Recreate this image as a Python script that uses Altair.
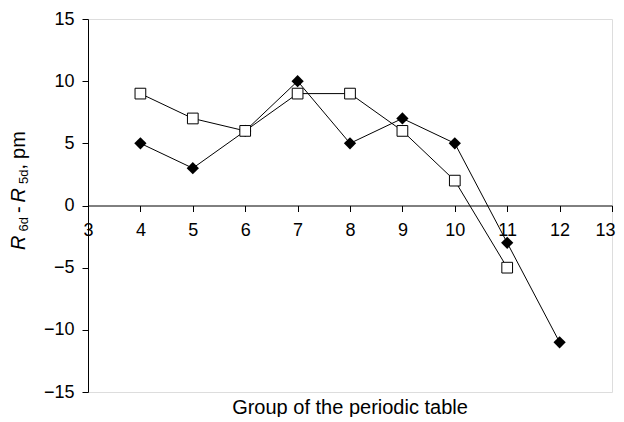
import altair as alt
import pandas as pd

# ---- data ----
groups_diamond = [4, 5, 6, 7, 8, 9, 10, 11, 12]
diff_diamond = [5, 3, 6, 10, 5, 7, 5, -3, -11]
groups_square = [4, 5, 6, 7, 8, 9, 10, 11]
diff_square = [9, 7, 6, 9, 9, 6, 2, -5]
x_ticks = [3, 4, 5, 6, 7, 8, 9, 10, 11, 12, 13]
y_ticks = [-15, -10, -5, 0, 5, 10, 15]
x_title = "Group of the periodic table"
# y title pieces: (text, is_subscript, italic, gap after)
y_title_parts = [("R", False, True, 4), ("6d", True, False, 4), ("-", False, False, 4),
                 ("R", False, True, 4), ("5d", True, False, 0), (",", False, False, 5),
                 ("pm", False, False, 0)]

W, H = 524, 373
FONT = "Liberation Sans"
TICK_FS = 18
TITLE_FS = 20
SUB_FS = 13
last_x = x_ticks[-1]

df_d = pd.DataFrame({"group": groups_diamond, "diff": diff_diamond})
df_s = pd.DataFrame({"group": groups_square, "diff": diff_square})

xscale = alt.Scale(domain=[3, 13], nice=False, zero=False)
yscale = alt.Scale(domain=[-15, 15], nice=False)

xaxis = alt.Axis(values=x_ticks, title=None, grid=False, offset=-H / 2,
                 tickSize=6, labelPadding=10, labelFontSize=TICK_FS, labelFont=FONT,
                 labelColor="black", domainColor="black", tickColor="black",
                 labelOverlap=False, labelFlush=False, format="d",
                 labelAlign={"condition": {"test": f"datum.value == {last_x}", "value": "right"},
                             "value": "center"},
                 labelOffset={"condition": {"test": f"datum.value == {last_x}", "value": 3},
                              "value": 0})
yaxis = alt.Axis(values=y_ticks, title=None, grid=False, tickSize=6, labelPadding=8,
                 labelFontSize=TICK_FS, labelFont=FONT, labelColor="black",
                 domainColor="black", tickColor="black", format="d")

enc_x = alt.X("group:Q", scale=xscale, axis=xaxis)
enc_y = alt.Y("diff:Q", scale=yscale, axis=yaxis)

line_d = alt.Chart(df_d).mark_line(color="black", strokeWidth=1).encode(x=enc_x, y=enc_y)
line_s = alt.Chart(df_s).mark_line(color="black", strokeWidth=1).encode(x="group:Q", y="diff:Q")
pts_d = alt.Chart(df_d).mark_point(shape="diamond", filled=True, color="black",
                                   size=150, opacity=1).encode(x="group:Q", y="diff:Q")
pts_s = alt.Chart(df_s).mark_point(shape="square", filled=True, fill="white",
                                   stroke="black", strokeWidth=1, size=115,
                                   opacity=1, fillOpacity=1).encode(x="group:Q", y="diff:Q")

one = pd.DataFrame({"k": [0]})

# bottom title
xt = alt.Chart(one).mark_text(text=x_title, font=FONT, fontSize=TITLE_FS, color="black",
                              align="center", baseline="alphabetic").encode(
    x=alt.value(W / 2), y=alt.value(H + 22))

# rotated composite y title
cw = {"R": .722, "6": .556, "5": .556, "d": .556, " ": .278, "-": .333,
      ",": .278, "p": .556, "m": .833}
layers_t = []
pos = 231.0
for txt, sub, ital, gap in y_title_parts:
    fs = SUB_FS if sub else TITLE_FS
    xb = -60 if sub else -63
    kw = dict(text=txt, font=FONT, fontSize=fs, color="black", angle=270,
              align="left", baseline="alphabetic")
    if ital:
        kw["fontStyle"] = "italic"
    layers_t.append(alt.Chart(one).mark_text(**kw).encode(x=alt.value(xb), y=alt.value(pos)))
    pos -= sum(cw.get(c, .5) for c in txt) * fs + gap

chart = alt.layer(line_d, line_s, pts_d, pts_s, xt, *layers_t).properties(
    width=W, height=H,
    padding={"left": 80, "top": 11, "right": 4, "bottom": 25},
    autosize=alt.AutoSizeParams(type="none"),
).configure_view(stroke="#8c8c8c", strokeWidth=1).configure(background="white")

chart.save("out.html", embed_options={"renderer": "svg", "actions": False})
